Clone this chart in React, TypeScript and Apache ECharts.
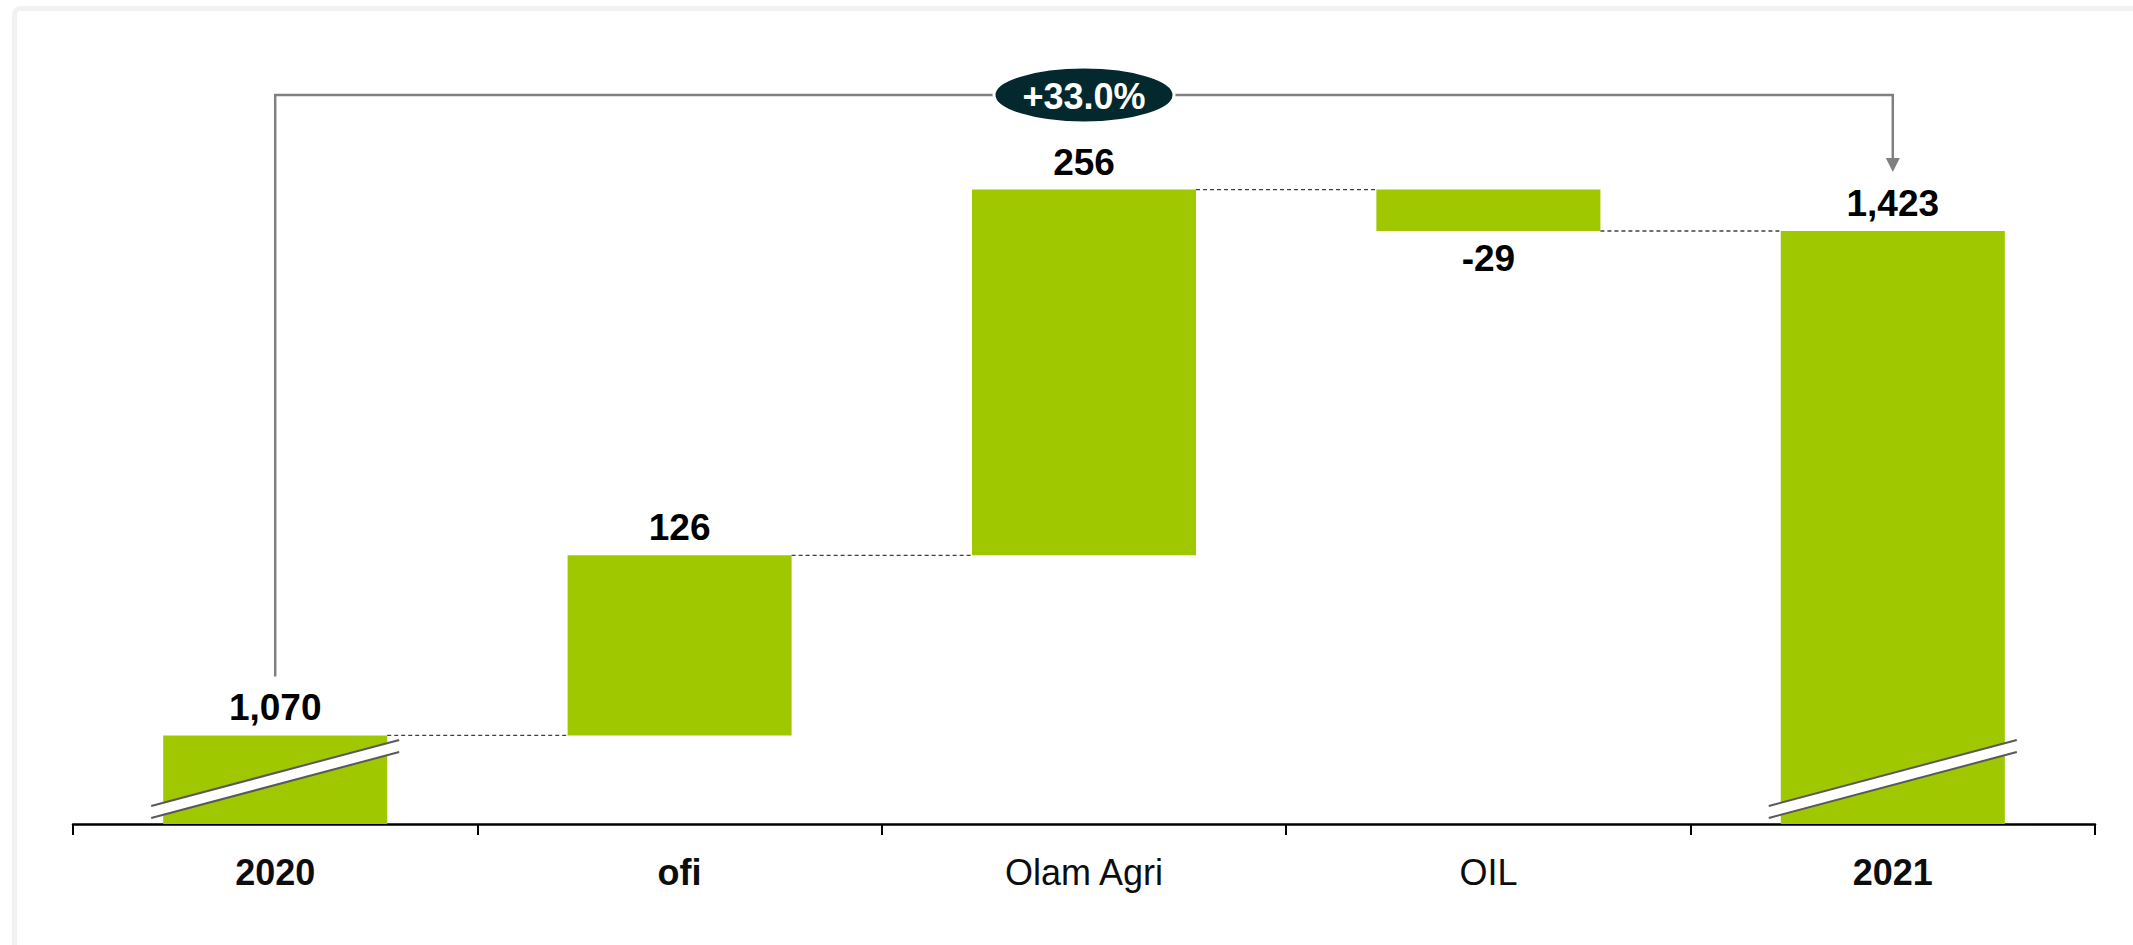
import React, { useEffect, useRef } from "react";
import * as echarts from "echarts";

const categories = ["2020", "ofi", "Olam Agri", "OIL", "2021"];
const categoryBold = [true, true, false, false, true];
const changes = [1070, 126, 256, -29, 1423];
const isTotal = [true, false, false, false, true];
const growthLabel = "+33.0%";
const yMin = 1008;
const yMax = 1500;

const FONT = "'Liberation Sans', Arial, Helvetica, sans-serif";
const BAR_COLOR = "#a0c800";
const BAR_RATIO = 0.554;

function buildWaterfall() {
  const placeholder: number[] = [];
  const visible: number[] = [];
  const levels: number[][] = [];
  let running = 0;
  changes.forEach((c, i) => {
    if (isTotal[i]) {
      placeholder.push(0);
      visible.push(c);
      running = c;
    } else {
      const start = running;
      const end = running + c;
      placeholder.push(Math.min(start, end));
      visible.push(Math.abs(c));
      running = end;
    }
    if (i < changes.length - 1) levels.push([i, running]);
  });
  return { placeholder, visible, levels };
}

export default function App() {
  const ref = useRef<HTMLDivElement>(null);
  useEffect(() => {
    if (!ref.current) return;
    const chart = echarts.init(ref.current, null, { renderer: "svg" });
    const { placeholder, visible, levels } = buildWaterfall();
    const fmt = (v: number) => (v < 0 ? "-" : "") + Math.abs(v).toLocaleString("en-US");

    const option: any = {
      animation: false,
      backgroundColor: "#ffffff",
      textStyle: { fontFamily: FONT },
      graphic: [
        {
          type: "rect",
          shape: { x: 14.5, y: 8.5, width: 2300, height: 1100, r: 6 },
          style: { fill: "none", stroke: "#f1f1f1", lineWidth: 5 },
          silent: true,
        },
      ],
      grid: { left: 73, right: 38, top: 121, bottom: 121, containLabel: false },
      xAxis: {
        type: "category",
        data: categories,
        boundaryGap: true,
        axisLine: { show: true, lineStyle: { color: "#000000", width: 2.5 } },
        axisTick: { show: true, length: 11, lineStyle: { color: "#000000", width: 2 } },
        axisLabel: {
          margin: 30,
          interval: 0,
          formatter: (v: string, i: number) => (categoryBold[i] ? `{b|${v}}` : `{n|${v}}`),
          rich: {
            b: { fontFamily: FONT, fontSize: 36, fontWeight: "bold", color: "#0d0d0d" },
            n: { fontFamily: FONT, fontSize: 36, fontWeight: "normal", color: "#0d0d0d" },
          },
        },
      },
      yAxis: {
        type: "value",
        min: yMin,
        max: yMax,
        show: false,
        splitLine: { show: false },
      },
      series: [
        {
          type: "bar",
          stack: "wf",
          clip: true,
          barWidth: BAR_RATIO * 100 + "%",
          itemStyle: { color: "transparent" },
          data: placeholder,
          silent: true,
        },
        {
          type: "bar",
          stack: "wf",
          clip: true,
          barWidth: BAR_RATIO * 100 + "%",
          itemStyle: { color: BAR_COLOR },
          data: visible.map((v, i) => ({
            value: v,
            label: {
              show: true,
              position: changes[i] < 0 ? "bottom" : "top",
              distance: 9,
              formatter: () => fmt(changes[i]),
              fontFamily: FONT,
              fontSize: 37,
              fontWeight: "bold",
              color: "#000000",
            },
          })),
        },
        {
          type: "custom",
          z: 3,
          silent: true,
          data: levels,
          renderItem: (params: any, api: any) => {
            const idx = api.value(0);
            const lvl = api.value(1);
            const p1 = api.coord([idx, lvl]);
            const p2 = api.coord([idx + 1, lvl]);
            const bw = api.size([1, 0])[0] * BAR_RATIO;
            return {
              type: "line",
              shape: { x1: p1[0] + bw / 2, y1: p1[1], x2: p2[0] - bw / 2, y2: p2[1] },
              style: { stroke: "#404040", lineWidth: 1.4, lineDash: [4, 3] },
            };
          },
        },
        {
          type: "custom",
          z: 4,
          silent: true,
          data: isTotal.map((t, i) => (t ? [i, yMin] : null)).filter((d) => d),
          renderItem: (params: any, api: any) => {
            const idx = api.value(0);
            const p = api.coord([idx, yMin]);
            const bw = api.size([1, 0])[0] * BAR_RATIO;
            const xl = p[0] - bw / 2 - 12;
            const xr = p[0] + bw / 2 + 12;
            const yb = p[1];
            const l1 = [[xl, yb - 18], [xr, yb - 84]];
            const l2 = [[xl, yb - 6], [xr, yb - 72]];
            return {
              type: "group",
              children: [
                {
                  type: "polygon",
                  shape: { points: [l1[0], l1[1], l2[1], l2[0]] },
                  style: { fill: "#ffffff" },
                },
                {
                  type: "line",
                  shape: { x1: l1[0][0], y1: l1[0][1], x2: l1[1][0], y2: l1[1][1] },
                  style: { stroke: "#595959", lineWidth: 2 },
                },
                {
                  type: "line",
                  shape: { x1: l2[0][0], y1: l2[0][1], x2: l2[1][0], y2: l2[1][1] },
                  style: { stroke: "#595959", lineWidth: 2 },
                },
              ],
            };
          },
        },
        {
          type: "custom",
          z: 5,
          silent: true,
          data: [[0, changes[0], changes.length - 1, changes[changes.length - 1]]],
          renderItem: (params: any, api: any) => {
            const a = api.coord([api.value(0), api.value(1)]);
            const b = api.coord([api.value(2), api.value(3)]);
            const topY = api.coord([0, yMax])[1] - 26;
            const ay = a[1] - 59;
            const tipY = b[1] - 59;
            const baseY = tipY - 14;
            const cx = (a[0] + b[0]) / 2;
            const stroke = "#808080";
            return {
              type: "group",
              children: [
                {
                  type: "polyline",
                  shape: { points: [[a[0], ay], [a[0], topY], [b[0], topY], [b[0], baseY]] },
                  style: { stroke, lineWidth: 2.5, fill: "none" },
                },
                {
                  type: "polygon",
                  shape: { points: [[b[0] - 7, baseY], [b[0] + 7, baseY], [b[0], tipY]] },
                  style: { fill: stroke },
                },
                {
                  type: "ellipse",
                  shape: { cx, cy: topY, rx: 90, ry: 28 },
                  style: { fill: "#03282d", stroke: "#ffffff", lineWidth: 3 },
                },
                {
                  type: "text",
                  style: {
                    text: growthLabel,
                    x: cx,
                    y: topY + 1,
                    align: "center",
                    verticalAlign: "middle",
                    fill: "#ffffff",
                    font: `bold 36px ${FONT}`,
                  },
                },
              ],
            };
          },
        },
      ],
    };
    chart.setOption(option);
    return () => chart.dispose();
  }, []);
  return (
    <div
      ref={ref}
      style={{ position: "absolute", left: 0, top: 0, width: 2133, height: 945, background: "#fff" }}
    />
  );
}
